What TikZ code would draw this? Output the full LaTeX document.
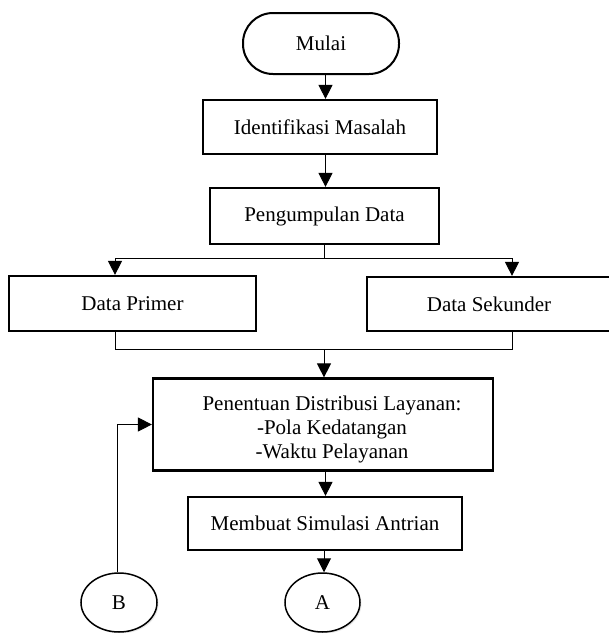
\documentclass[tikz,border=0pt]{standalone}
\usepackage{fontspec}
\setmainfont{Liberation Serif}
\usetikzlibrary{arrows.meta,shapes.geometric,shadows}
\begin{document}
\begin{tikzpicture}[x=1pt,y=-1pt,
  font=\fontsize{21}{24}\selectfont,
  procbox/.style={draw=black, line width=2.2pt, rectangle, inner sep=0pt},
  termbox/.style={draw=black, line width=2pt, rectangle, rounded corners=30pt, inner sep=0pt, minimum width=156pt, minimum height=61pt},
  connbox/.style={draw=black, line width=1.5pt, ellipse, inner sep=0pt, fill=white,
     drop shadow={opacity=0.18, shadow xshift=1.5pt, shadow yshift=-1.5pt}},
  link/.style={draw=black, line width=1pt},
  arr/.style={link, -{Triangle[length=14pt,width=14pt]}}
]
\useasboundingbox (0,0) rectangle (609,633);

\node[termbox] (mulai) at (321,43.5) {Mulai};
\node[procbox, minimum width=234pt, minimum height=54pt] (ident) at (320,127) {Identifikasi Masalah};
\node[procbox, minimum width=229pt, minimum height=56pt] (pengum) at (324.5,216) {Pengumpulan Data};
\node[procbox, minimum width=247pt, minimum height=55pt] (primer) at (132.5,303.5) {Data Primer};
\node[procbox, minimum width=244pt, minimum height=54pt] (sekunder) at (489,304) {Data Sekunder};
\node[procbox, minimum width=340pt, minimum height=92pt] (penentuan) at (323,424.5) {};
\node[align=center, inner sep=0pt] (pentext) at (332,429) {Penentuan Distribusi Layanan:\\-Pola Kedatangan\\-Waktu Pelayanan};
\node[procbox, minimum width=274pt, minimum height=53pt] (membuat) at (325,523.5) {Membuat Simulasi Antrian};
\node[connbox, minimum width=76pt, minimum height=59pt] (B) at (119,602.5) {B};
\node[connbox, minimum width=75pt, minimum height=59pt] (A) at (322.5,602.5) {A};

\coordinate (cx) at (325.5,0);
\coordinate (split) at (324,258);
\coordinate (join) at (324,349);
\coordinate (lx) at (115,0);
\coordinate (rx) at (512,0);
\coordinate (bx) at (117,0);

\draw[arr] (mulai.south -| cx) -- (ident.north -| cx);
\draw[arr] (ident.south -| cx) -- (pengum.north -| cx);
\draw[link] (pengum.south -| split) -- (split);
\draw[link] (split -| lx) -- (split -| rx);
\draw[arr] (split -| lx) -- (primer.north -| lx);
\draw[arr] (split -| rx) -- (sekunder.north -| rx);
\draw[link] (primer.south -| lx) -- (join -| lx) -- (join -| rx) -- (sekunder.south -| rx);
\draw[arr] (join) -- (penentuan.north -| join);
\draw[arr] (penentuan.south -| cx) -- (membuat.north -| cx);
\draw[arr] (membuat.south -| join) -- (A.north -| join);
\draw[arr] (B.north -| bx) -- (bx |- penentuan.west) -- (penentuan.west);
\end{tikzpicture}
\end{document}
